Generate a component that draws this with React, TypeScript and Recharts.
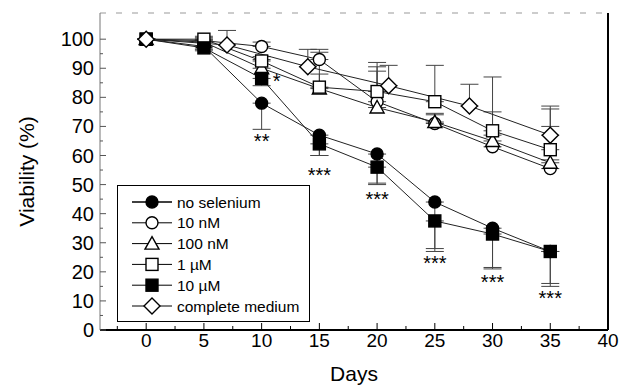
import React from 'react';
import {
  ComposedChart, Line, Scatter, XAxis, YAxis, ErrorBar, ReferenceLine, Legend, Label,
} from 'recharts';

// sampling days (treatments) and the medium control days
const days = [0, 5, 10, 15, 20, 25, 30, 35];
const mediumDays = [0, 7, 14, 21, 28, 35];

// viability (%), with error bar lengths
const noSelenium = [100, 97.5, 78, 67, 60.5, 44, 35, 27];
const noSeleniumErr = [0, 1, 9, 7, 10, 16, 13.5, 11];
const tenNM = [100, 99.5, 97.5, 93, 78.5, 71, 63, 55.5];
const tenNMErr = [0, 1, 1.5, 3.5, 12, 3, 4, 3];
const hundredNM = [100, 99, 90, 83, 76.5, 71.5, 65, 57.5];
const hundredNMErr = [0, 1, 3, 5, 12.5, 3, 10, 12.5];
const oneUM = [100, 100, 92.5, 83.5, 82, 78.5, 68.5, 62];
const oneUMErr = [0, 1, 1.5, 12, 10, 12.5, 18.5, 14];
const tenUM = [100, 97, 86.5, 64, 56, 37.5, 33, 27];
const tenUMErr = [0, 1, 2.5, 4, 6, 10.5, 12, 12];
const medium = [100, 98, 90.5, 84, 77, 67];
const mediumErr = [0, 5, 6, 7, 7.5, 10];

// significance marks
const sigDays = [10, 11.3, 15, 20, 25, 30, 35];
const sigLevels = [66, 86.5, 54.5, 46, 24, 17.5, 12];
const sigMarks = ['**', '*', '***', '***', '***', '***', '***'];

const xTicks = [-2.5, 0, 2.5, 5, 7.5, 10, 12.5, 15, 17.5, 20, 22.5, 25, 27.5, 30, 32.5, 35, 37.5, 40];
const yTicks = [0, 5, 10, 15, 20, 25, 30, 35, 40, 45, 50, 55, 60, 65, 70, 75, 80, 85, 90, 95, 100];

const FONT = '"Liberation Sans", Arial, sans-serif';

const build = (xs: number[], ys: number[], errs: number[], down: boolean) =>
  xs.map((d, i) => ({ day: d, v: ys[i], err: down ? [errs[i], 0] : [0, errs[i]] }));

const series = [
  { name: 'no selenium', shape: 'circle', filled: true, data: build(days, noSelenium, noSeleniumErr, true) },
  { name: '10 nM', shape: 'circle', filled: false, data: build(days, tenNM, tenNMErr, false) },
  { name: '100 nM', shape: 'triangle', filled: false, data: build(days, hundredNM, hundredNMErr, false) },
  { name: '1 \u00b5M', shape: 'square', filled: false, data: build(days, oneUM, oneUMErr, false) },
  { name: '10 \u00b5M', shape: 'square', filled: true, data: build(days, tenUM, tenUMErr, true) },
  { name: 'complete medium', shape: 'diamond', filled: false, data: build(mediumDays, medium, mediumErr, false) },
];

const sigData = sigDays.map((d, i) => ({ day: d, v: sigLevels[i], mark: sigMarks[i] }));

const Marker = ({ cx, cy, shape, filled }: any) => {
  const fill = filled ? '#000' : '#fff';
  const common = { fill, stroke: '#000', strokeWidth: 1.4 };
  if (shape === 'circle') return <circle cx={cx} cy={cy} r={6} {...common} />;
  if (shape === 'square') return <rect x={cx - 6} y={cy - 6} width={12} height={12} {...common} />;
  if (shape === 'triangle')
    return <polygon points={`${cx},${cy - 7} ${cx + 7},${cy + 5.5} ${cx - 7},${cy + 5.5}`} {...common} />;
  return <polygon points={`${cx},${cy - 8} ${cx + 8},${cy} ${cx},${cy + 8} ${cx - 8},${cy}`} {...common} />;
};

const XTick = ({ x, y, payload }: any) => {
  const v = payload.value;
  const major = v % 5 === 0;
  return (
    <g>
      <line x1={x} x2={x} y1={y} y2={y - (major ? 7 : 4)} stroke="#000" />
      {major && (
        <text x={x} y={y + 17} textAnchor="middle" fontSize={19} fontFamily={FONT} fill="#000">{v}</text>
      )}
    </g>
  );
};

const YTick = ({ x, y, payload }: any) => {
  const v = payload.value;
  const major = v % 10 === 0;
  return (
    <g>
      <line x1={x} x2={x + (major ? 6 : 3)} y1={y} y2={y} stroke="#555" />
      {major && (
        <text x={x - 6} y={y} dy={7} textAnchor="end" fontSize={20} fontFamily={FONT} fill="#000">{v}</text>
      )}
    </g>
  );
};

const SigMark = ({ cx, cy, payload }: any) => (
  <text x={cx} y={cy} dy={10} textAnchor="middle" fontSize={20} fontFamily={FONT} fill="#000">{payload.mark}</text>
);

const LegendBox = () => (
  <svg width={194} height={138}>
    <rect x={0.5} y={0.5} width={192} height={136} fill="#fff" stroke="#000" />
    {series.map((s, i) => {
      const cy = 17 + i * 20.8;
      return (
        <g key={s.name}>
          <line x1={15} x2={55} y1={cy} y2={cy} stroke="#000" strokeWidth={i === 0 ? 1.6 : 1} />
          <Marker cx={35} cy={cy} shape={s.shape} filled={s.filled} />
          <text x={60} y={cy} dy={5.5} fontSize={15.5} fontFamily={FONT} fill="#000">{s.name}</text>
        </g>
      );
    })}
  </svg>
);

export default function App() {
  return (
    <div style={{ position: 'absolute', left: 0, top: 0, background: '#fff' }}>
      <ComposedChart width={621} height={389} margin={{ top: 13, right: 13, bottom: 0, left: 0 }}>
        <XAxis
          dataKey="day"
          type="number"
          domain={[-4, 40]}
          ticks={xTicks}
          tick={<XTick />}
          tickLine={false}
          tickSize={0}
          tickMargin={0}
          axisLine={{ stroke: '#000', strokeWidth: 2 }}
          height={59}
          interval={0}
        >
          <Label value="Days" position="insideBottom" offset={8} style={{ fontSize: 21, fontFamily: FONT, fill: '#000' }} />
        </XAxis>
        <YAxis
          type="number"
          domain={[0, 109]}
          ticks={yTicks}
          tick={<YTick />}
          tickLine={false}
          tickSize={0}
          tickMargin={0}
          axisLine={{ stroke: '#777' }}
          width={100}
          interval={0}
        >
          <Label
            value="Viability (%)"
            angle={-90}
            position="insideLeft"
            offset={27}
            style={{ fontSize: 21, fontFamily: FONT, fill: '#000', textAnchor: 'middle' }}
          />
        </YAxis>
        <ReferenceLine y={109} stroke="#999" strokeDasharray="6 10" />
        <ReferenceLine x={40} stroke="#000" strokeWidth={2} />
        <Legend
          layout="vertical"
          align="center"
          verticalAlign="middle"
          content={<LegendBox />}
          wrapperStyle={{ left: 117, top: 185, width: 194, height: 138 }}
        />
        {series.map((s) => (
          <Line
            key={s.name}
            name={s.name}
            data={s.data}
            dataKey="v"
            type="linear"
            stroke="#222"
            strokeWidth={1}
            isAnimationActive={false}
            dot={(p: any) => <Marker key={`${s.name}-${p.index}`} cx={p.cx} cy={p.cy} shape={s.shape} filled={s.filled} />}
            activeDot={false}
          >
            <ErrorBar dataKey="err" direction="y" width={9} stroke="#444" strokeWidth={1} />
          </Line>
        ))}
        <Scatter data={sigData} dataKey="v" shape={<SigMark />} isAnimationActive={false} legendType="none" />
      </ComposedChart>
    </div>
  );
}
